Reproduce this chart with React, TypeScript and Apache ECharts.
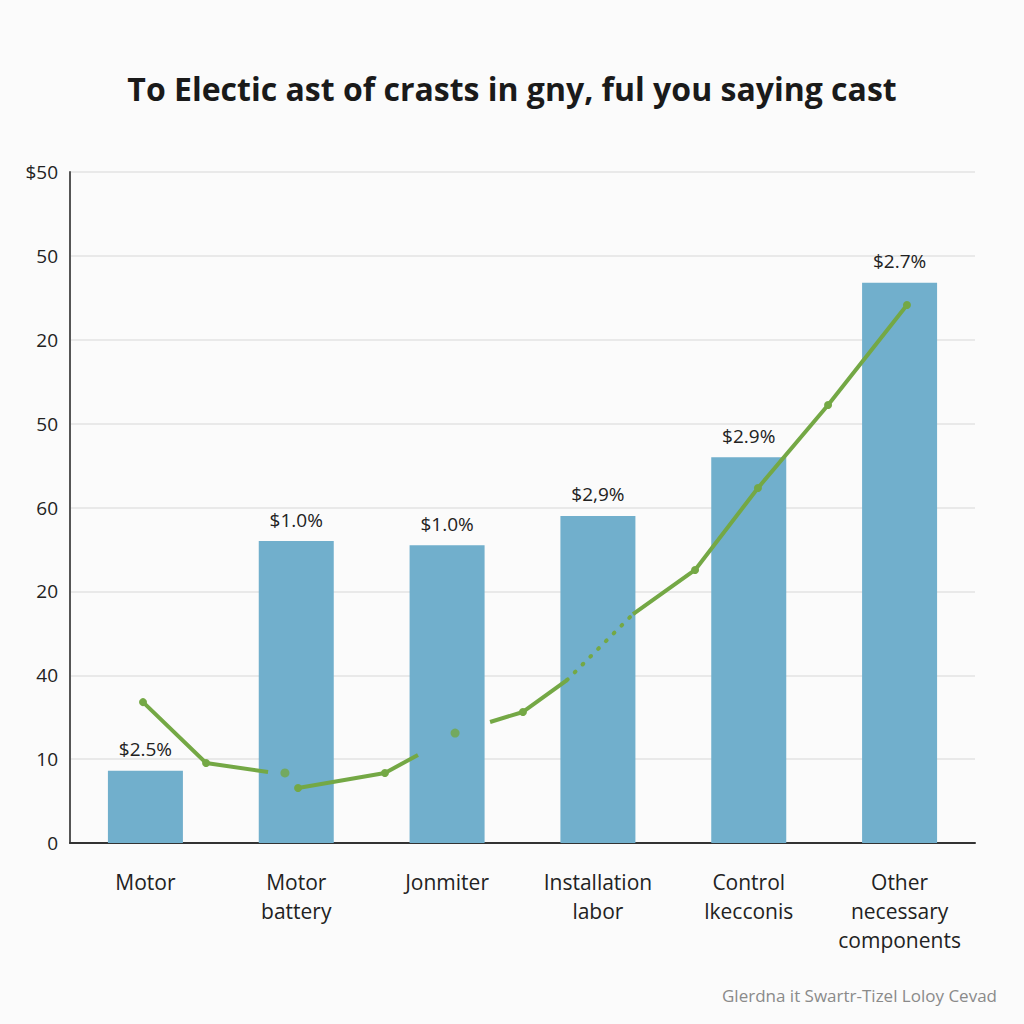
import React, { useEffect, useRef } from "react";
import * as echarts from "echarts";

const categories = ["Motor", "Motor\nbattery", "Jonmiter", "Installation\nlabor", "Control\nlkecconis", "Other\nnecessary\ncomponents"];
const barValues = [0.86, 3.6, 3.55, 3.9, 4.6, 6.68];
const barLabels = ["$2.5%", "$1.0%", "$1.0%", "$2,9%", "$2.9%", "$2.7%"];
const yTickLabels = ["0", "10", "40", "20", "60", "50", "20", "50", "$50"];

// trend line pieces: [x position on 0..6 scale, value]
const lineSolidA = [[0.484, 1.68], [0.902, 0.954], [1.313, 0.846]];
const lineSolidB = [[1.512, 0.656], [2.088, 0.835], [2.307, 1.05]];
const lineSolidC = [[2.785, 1.443], [3.003, 1.562], [3.295, 1.943]];
const lineDotted = [[3.295, 1.943], [3.733, 2.73]];
const lineSolidE = [[3.733, 2.73], [4.144, 3.255], [4.561, 4.233], [5.026, 5.222], [5.549, 6.414]];
const lonePoints = [[1.425, 0.835], [2.553, 1.311]];

const GREEN = "#74a845";
const BAR = "#71afcc";

export default function App() {
  const ref = useRef<HTMLDivElement>(null);
  useEffect(() => {
    const chart = echarts.init(ref.current!, null, { renderer: "svg" });
    const mk = (pts: number[][], noSymEnds: boolean[]) =>
      pts.map((p, i) => (noSymEnds[i] ? { value: p, symbol: "none" } : { value: p }));
    chart.setOption({
      animation: false,
      backgroundColor: "#fbfbfb",
      textStyle: { fontFamily: "Open Sans" },
      title: {
        text: "To Electic ast of crasts in gny, ful you saying cast",
        left: "center",
        top: 67,
        textStyle: { fontSize: 32, fontWeight: 700, color: "#1a1a1a", fontFamily: "Open Sans" },
      },
      graphic: [
        {
          type: "text",
          right: 27,
          top: 987,
          style: { text: "Glerdna it Swartr-Tizel Loloy Cevad", fill: "#8a8a8a", fontSize: 17, fontFamily: "Open Sans" },
        },
      ],
      grid: { left: 70, right: 49, top: 172, bottom: 181, containLabel: false },
      xAxis: [
        {
          type: "category",
          data: categories,
          axisLine: { lineStyle: { color: "#333", width: 2 } },
          axisTick: { show: false },
          axisLabel: { color: "#222", fontSize: 21, lineHeight: 29, margin: 24, interval: 0 },
        },
        { type: "value", min: 0, max: 6, show: false },
      ],
      yAxis: {
        type: "value",
        min: 0,
        max: 8,
        interval: 1,
        axisLine: { show: true, lineStyle: { color: "#555", width: 2 } },
        axisTick: { show: false },
        splitLine: { lineStyle: { color: "#e9e9e9", width: 2 } },
        axisLabel: {
          color: "#222",
          fontSize: 19,
          margin: 12,
          formatter: (v: number) => yTickLabels[Math.round(v)] ?? "",
        },
      },
      series: [
        {
          type: "bar",
          data: barValues,
          barWidth: 75,
          itemStyle: { color: BAR },
          label: {
            show: true,
            position: "top",
            distance: 12,
            color: "#222",
            fontSize: 19,
            formatter: (p: any) => barLabels[p.dataIndex],
          },
          z: 2,
        },
        {
          type: "line", xAxisIndex: 1, data: mk(lineSolidA, [false, false, true]),
          lineStyle: { color: GREEN, width: 4 }, itemStyle: { color: GREEN }, symbol: "circle", symbolSize: 8, z: 5,
        },
        {
          type: "line", xAxisIndex: 1, data: mk(lineSolidB, [false, false, true]),
          lineStyle: { color: GREEN, width: 4 }, itemStyle: { color: GREEN }, symbol: "circle", symbolSize: 8, z: 5,
        },
        {
          type: "line", xAxisIndex: 1, data: mk(lineSolidC, [true, false, true]),
          lineStyle: { color: GREEN, width: 4 }, itemStyle: { color: GREEN }, symbol: "circle", symbolSize: 8, z: 5,
        },
        {
          type: "line", xAxisIndex: 1, data: mk(lineDotted, [true, true]),
          lineStyle: { color: GREEN, width: 4, type: [1, 10], cap: "round" }, symbol: "none", z: 5,
        },
        {
          type: "line", xAxisIndex: 1, data: mk(lineSolidE, [true, false, false, false, false]),
          lineStyle: { color: GREEN, width: 4 }, itemStyle: { color: GREEN }, symbol: "circle", symbolSize: 8, z: 5,
        },
        {
          type: "scatter", xAxisIndex: 1, data: lonePoints,
          itemStyle: { color: GREEN }, symbolSize: 9, z: 5,
        },
      ],
    });
    return () => chart.dispose();
  }, []);
  return <div ref={ref} style={{ width: 1024, height: 1024, position: "absolute", left: 0, top: 0 }} />;
}
